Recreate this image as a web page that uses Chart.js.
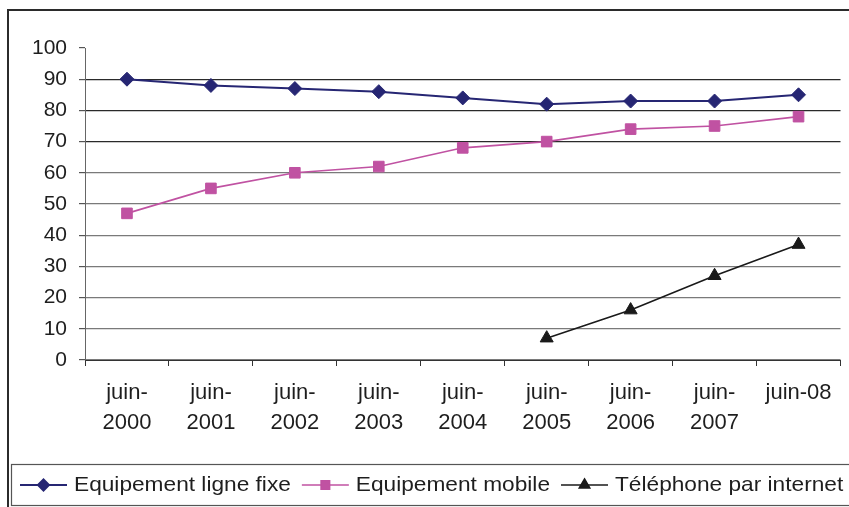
<!DOCTYPE html>
<html>
<head>
<meta charset="utf-8">
<script src="https://cdn.jsdelivr.net/npm/chart.js@4/dist/chart.umd.min.js"></script>
<style>
  html, body { margin: 0; padding: 0; background: #fff; }
  #wrap { width: 849px; height: 507px; position: relative; }
</style>
</head>
<body>
<div id="wrap"><canvas id="c" width="849" height="507"></canvas></div>
<script>
// Semestrial survey points (June of each year)
const categories = [
  ['juin-', '2000'], ['juin-', '2001'], ['juin-', '2002'], ['juin-', '2003'],
  ['juin-', '2004'], ['juin-', '2005'], ['juin-', '2006'], ['juin-', '2007'], 'juin-08'
];
const ligneFixe   = [90, 88, 87, 86, 84, 82, 83, 83, 85];
const mobile      = [47, 55, 60, 62, 68, 70, 74, 75, 78];
const internetTel = [null, null, null, null, null, 7, 16, 27, 37];
const yTicks = [0, 10, 20, 30, 40, 50, 60, 70, 80, 90, 100];

const seriesNames = ['Equipement ligne fixe', 'Equipement mobile', 'Téléphone par internet'];
const FONT = '"Liberation Sans", Arial, Helvetica, sans-serif';

// Outer frame and boxed legend drawn straight on the canvas
const framePlugin = {
  id: 'frameAndLegend',
  afterDraw(chart) {
    const ctx = chart.ctx;
    ctx.save();
    // outer frame
    ctx.strokeStyle = '#2b2b2b';
    ctx.lineWidth = 2;
    ctx.strokeRect(8, 10, 900, 520);
    // legend box
    ctx.strokeStyle = '#555';
    ctx.lineWidth = 1.2;
    ctx.strokeRect(11.5, 464.5, 900, 41);

    ctx.font = '21px ' + FONT;
    ctx.textBaseline = 'middle';
    const stretch = 1.08;
    const cy = 485;
    let x = 20;
    chart.data.datasets.forEach((ds) => {
      const lineLen = 47;
      ctx.strokeStyle = ds.borderColor;
      ctx.lineWidth = ds.borderWidth;
      ctx.beginPath();
      ctx.moveTo(x, cy);
      ctx.lineTo(x + lineLen, cy);
      ctx.stroke();
      Chart.helpers.drawPoint(ctx, {
        pointStyle: ds.pointStyle,
        radius: ds.pointRadius - 1.5,
        rotation: 0,
        borderWidth: 1
      }, x + lineLen / 2, cy);
      ctx.fillStyle = ds.pointBackgroundColor;
      ctx.fill();
      ctx.fillStyle = '#1e1e1e';
      const tx = x + lineLen + 7;
      ctx.save();
      ctx.translate(tx, cy);
      ctx.scale(stretch, 1);
      ctx.fillText(ds.label, 0, 0);
      ctx.restore();
      x = tx + ctx.measureText(ds.label).width * stretch + 11;
    });
    ctx.restore();
  }
};

new Chart(document.getElementById('c'), {
  type: 'line',
  data: {
    labels: categories,
    datasets: [
      {
        label: seriesNames[0],
        data: ligneFixe,
        borderColor: '#262673',
        backgroundColor: '#262673',
        pointBackgroundColor: '#262673',
        pointBorderColor: '#262673',
        borderWidth: 2,
        pointStyle: 'rectRot',
        pointRadius: 7,
        pointBorderWidth: 1
      },
      {
        label: seriesNames[1],
        data: mobile,
        borderColor: '#c052a2',
        backgroundColor: '#c052a2',
        pointBackgroundColor: '#c052a2',
        pointBorderColor: '#c052a2',
        borderWidth: 1.6,
        pointStyle: 'rect',
        pointRadius: 7.5,
        pointBorderWidth: 1
      },
      {
        label: seriesNames[2],
        data: internetTel,
        borderColor: '#1a1a1a',
        backgroundColor: '#1a1a1a',
        pointBackgroundColor: '#1a1a1a',
        pointBorderColor: '#1a1a1a',
        borderWidth: 1.6,
        pointStyle: 'triangle',
        pointRadius: 7.5,
        pointBorderWidth: 1
      }
    ]
  },
  options: {
    responsive: false,
    animation: false,
    events: [],
    layout: { padding: { left: 0, right: 8, top: 48, bottom: 0 } },
    plugins: {
      legend: { display: false },
      tooltip: { enabled: false },
      title: { display: false }
    },
    elements: { line: { tension: 0 } },
    scales: {
      x: {
        type: 'category',
        offset: true,
        grid: {
          offset: true,
          drawOnChartArea: false,
          drawTicks: true,
          tickLength: 6,
          tickColor: '#333',
          tickWidth: 1
        },
        border: { display: true, color: '#333', width: 1 },
        ticks: {
          font: { family: FONT, size: 22, lineHeight: 1.36 },
          color: '#1e1e1e',
          padding: 12,
          maxRotation: 0,
          autoSkip: false
        },
        afterFit(scale) { scale.height = 147; }
      },
      y: {
        min: 0,
        max: 100,
        afterBuildTicks(scale) { scale.ticks = yTicks.map(v => ({ value: v })); },
        grid: {
          color: ctx => ctx.tick && ctx.tick.value === 100 ? 'rgba(0,0,0,0)'
                       : (ctx.tick && ctx.tick.value >= 70 ? '#2a2a2a' : '#7a7a7a'),
          lineWidth: 1.2,
          tickLength: 6,
          tickColor: '#555'
        },
        border: { display: true, color: '#666', width: 1 },
        ticks: {
          font: { family: FONT, size: 21 },
          color: '#1e1e1e',
          padding: 12
        },
        afterFit(scale) { scale.width = 85; }
      }
    }
  },
  plugins: [framePlugin]
});
</script>
</body>
</html>
